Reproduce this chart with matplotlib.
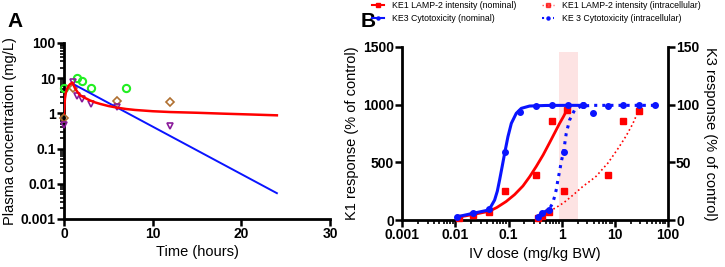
import numpy as np
import matplotlib
matplotlib.use("Agg")
import matplotlib.pyplot as plt
from matplotlib.ticker import LogLocator, NullFormatter, NullLocator

plt.rcParams['font.family'] = ['Liberation Sans', 'DejaVu Sans']

# ---- panel A: plasma concentration data ----
green_t = [0, 1.5, 2, 3, 7]
green_c = [5.2, 10.0, 8.5, 5.3, 5.1]
brown_t = [0, 1, 6, 12]
brown_c = [0.75, 5.2, 2.2, 2.1]
purple_t = [0, 1, 1.5, 2, 3, 6, 12]
purple_c = [0.47, 7.6, 3.2, 2.6, 1.9, 1.55, 0.45]

red_t = [0, 0.1, 0.2, 0.35, 0.5, 0.7, 0.95, 1.05, 1.25, 1.5, 1.8, 2.3, 2.9, 3.5, 4.1, 5.0, 6.0, 7.0, 8.0, 10, 12, 15, 18, 21, 24]
red_c = [1.0, 2.6, 3.8, 5.0, 6.0, 6.8, 7.5, 6.6, 5.1, 4.1, 3.3, 2.8, 2.35, 2.05, 1.85, 1.62, 1.45, 1.33, 1.25, 1.15, 1.09, 1.04, 0.98, 0.93, 0.88]
blue_t = [0.95, 24]
blue_c = [7.0, 0.0054]

a_yticks = [0.001, 0.01, 0.1, 1, 10, 100]
a_ylabels = ['0.001', '0.01', '0.1', '1', '10', '100']

# ---- panel B: dose response ----
ke1_nom_dose = [0.0115, 0.0214, 0.0428, 0.0855, 0.33, 0.65, 1.25]
ke1_nom_resp = [15, 43, 67, 254, 390, 861, 954]
ke1_nom_fit_dose = [0.0115, 0.02, 0.0428, 0.06, 0.09, 0.13, 0.187, 0.25, 0.334, 0.45, 0.594, 0.75, 0.91, 1.08, 1.25]
ke1_nom_fit_resp = [25, 45, 75, 108, 160, 220, 295, 375, 465, 565, 670, 760, 835, 895, 950]

ke1_ic_dose = [0.36, 0.434, 0.577, 1.09, 7.35, 14.5, 28.2]
ke1_ic_resp = [15, 35, 67, 254, 390, 861, 948]
ke1_ic_fit_dose = [0.594, 0.8, 1.1, 1.63, 2.5, 3.5, 4.5, 6.0, 7.5, 9.25, 12.0, 16.5, 22.0, 28.2]
ke1_ic_fit_resp = [75, 110, 150, 215, 290, 340, 380, 445, 495, 555, 630, 730, 835, 950]

ke3_nom_dose = [0.0107, 0.0214, 0.0428, 0.0845, 0.162, 0.334, 0.67, 1.31, 2.5]
ke3_nom_resp = [2.9, 6.3, 9.3, 58.9, 93.9, 98.8, 99.7, 99.7, 99.4]
ke3_nom_fit_dose = [0.0111, 0.0214, 0.0428, 0.0547, 0.0615, 0.0679, 0.076, 0.0845, 0.0975, 0.113, 0.14, 0.174, 0.249, 0.5, 1.22, 2.5]
ke3_nom_fit_resp = [2.9, 5.8, 8.7, 17.3, 25.0, 34.7, 46.5, 57.8, 72.2, 83.8, 92.5, 96.8, 98.8, 99.3, 99.4, 99.4]

ke3_ic_dose = [0.357, 0.42, 0.585, 1.09, 2.5, 3.87, 7.4, 14.6, 28.4, 56.9]
ke3_ic_resp = [2.6, 6.3, 8.7, 58.9, 99.4, 93.0, 98.8, 99.4, 99.4, 99.7]
ke3_ic_fit_dose = [0.357, 0.415, 0.5, 0.594, 0.67, 0.738, 0.8, 0.851, 0.92, 0.986, 1.09, 1.225, 1.415, 1.76, 2.35, 4.0, 56.9]
ke3_ic_fit_resp = [2.6, 5.8, 7.5, 10.1, 14.0, 20.2, 27.0, 34.7, 42.5, 50.5, 59.2, 75.2, 86.7, 95.4, 98.8, 99.4, 99.4]

band_dose = [0.91, 2.05]
band_top = 1457

b_xticks = [0.001, 0.01, 0.1, 1, 10, 100]
b_xlabels = ['0.001', '0.01', '0.1', '1', '10', '100']

RED = '#ff0000'
BLUE = '#0a14ff'


def style_axis(ax):
    for s in ['top', 'right']:
        ax.spines[s].set_visible(False)
    for s in ['left', 'bottom']:
        ax.spines[s].set_linewidth(2.0)
    ax.tick_params(which='major', direction='out', length=5, width=1.8, pad=1)
    ax.tick_params(which='minor', direction='out', length=3, width=1.2)


def bold_ticks(ax):
    for lab in ax.get_xticklabels() + ax.get_yticklabels():
        lab.set_fontsize(10)
        lab.set_fontweight('bold')


fig = plt.figure(figsize=(7.25, 2.67), dpi=100)

# ---------- Panel A ----------
axA = fig.add_axes([0.0883, 0.180, 0.367, 0.659])
style_axis(axA)
axA.plot(green_t, green_c, 'o', mfc='none', mec='#22ee22', mew=1.5, ms=5.2, clip_on=False, zorder=3)
axA.plot(brown_t, brown_c, 'D', mfc='none', mec='#b07030', mew=1.2, ms=3.6, clip_on=False, zorder=3)
axA.plot(purple_t, purple_c, 'v', mfc='none', mec='#8a1a9a', mew=1.2, ms=4.5, clip_on=False, zorder=3)
axA.plot(blue_t, blue_c, '-', color=BLUE, lw=1.4, zorder=4)
axA.plot(red_t, red_c, '-', color=RED, lw=1.8, zorder=5)
axA.set_yscale('log')
axA.set_ylim(0.001, 100)
axA.set_xlim(0, 30)
axA.set_xticks([0, 10, 20, 30])
axA.xaxis.set_minor_locator(NullLocator())
axA.set_yticks(a_yticks)
axA.set_yticklabels(a_ylabels)
axA.yaxis.set_minor_locator(LogLocator(base=10, subs=np.arange(2, 10)))
axA.yaxis.set_minor_formatter(NullFormatter())
bold_ticks(axA)
axA.set_xlabel('Time (hours)', fontsize=10.5, labelpad=3)
axA.set_ylabel('Plasma concentration (mg/L)', fontsize=10.5, labelpad=3)
fig.text(0.011, 0.955, 'A', fontsize=15, fontweight='bold', va='top')

# ---------- Panel B ----------
axB = fig.add_axes([0.555, 0.176, 0.366, 0.648])
style_axis(axB)
axB.fill_between(band_dose, 0, band_top, color='#fde3e3', lw=0, zorder=0)

axB.plot(ke1_nom_fit_dose, ke1_nom_fit_resp, '-', color=RED, lw=2.0, zorder=3)
axB.plot(ke1_nom_dose, ke1_nom_resp, 's', color=RED, ms=4, lw=0, zorder=4, clip_on=False)
axB.plot(ke1_ic_fit_dose, ke1_ic_fit_resp, ':', color=RED, lw=1.2, zorder=3)
axB.plot(ke1_ic_dose, ke1_ic_resp, 's', color=RED, ms=4, lw=0, zorder=4, clip_on=False)

axB.set_xscale('log')
axB.set_xlim(0.001, 100)
axB.set_ylim(0, 1500)
axB.set_yticks([0, 500, 1000, 1500])
axB.set_xticks(b_xticks)
axB.set_xticklabels(b_xlabels)
axB.xaxis.set_minor_locator(LogLocator(base=10, subs=np.arange(2, 10)))
axB.xaxis.set_minor_formatter(NullFormatter())
bold_ticks(axB)
axB.set_xlabel('IV dose (mg/kg BW)', fontsize=10.5, labelpad=3)
axB.set_ylabel('K1 response (% of control)', fontsize=10.5, labelpad=3)

axR = axB.twinx()
axR.set_ylim(0, 150)
axR.set_yticks([0, 50, 100, 150])
for s in ['top', 'left', 'bottom']:
    axR.spines[s].set_visible(False)
axR.spines['right'].set_linewidth(2.0)
axR.tick_params(which='major', direction='out', length=5, width=1.8, pad=1)
bold_ticks(axR)
axR.set_ylabel('K3 response (% of control)', fontsize=10.5, rotation=270, labelpad=13)
axR.plot(ke3_nom_fit_dose, ke3_nom_fit_resp, '-', color=BLUE, lw=2.2, zorder=3)
axR.plot(ke3_nom_dose, ke3_nom_resp, 'o', color=BLUE, ms=4, lw=0, zorder=4, clip_on=False)
axR.plot(ke3_ic_fit_dose, ke3_ic_fit_resp, ':', color=BLUE, lw=2.2, zorder=3)
axR.plot(ke3_ic_dose, ke3_ic_resp, 'o', color=BLUE, ms=4, lw=0, zorder=4, clip_on=False)
axR.set_xlim(0.001, 100)

# legend
h1, = axB.plot([], [], '-s', color=RED, lw=1.5, ms=2.2)
h2, = axB.plot([], [], ':s', color=RED, lw=1.0, ms=2.2, alpha=0.7)
h3, = axB.plot([], [], '-o', color=BLUE, lw=1.5, ms=2.2)
h4, = axB.plot([], [], ':o', color=BLUE, lw=1.5, ms=2.2)
fig.legend([h1, h3, h2, h4],
           ['KE1 LAMP-2 intensity (nominal)', 'KE3 Cytotoxicity (nominal)',
            'KE1 LAMP-2 intensity (intracellular)', 'KE 3 Cytotoxicity (intracellular)'],
           ncol=2, loc='upper left', bbox_to_anchor=(0.502, 1.025), frameon=False,
           fontsize=6.3, handlelength=1.4, columnspacing=2.9, labelspacing=0.45,
           handletextpad=0.9)
fig.text(0.497, 0.955, 'B', fontsize=15, fontweight='bold', va='top')

fig.savefig('out.png', dpi=100)
